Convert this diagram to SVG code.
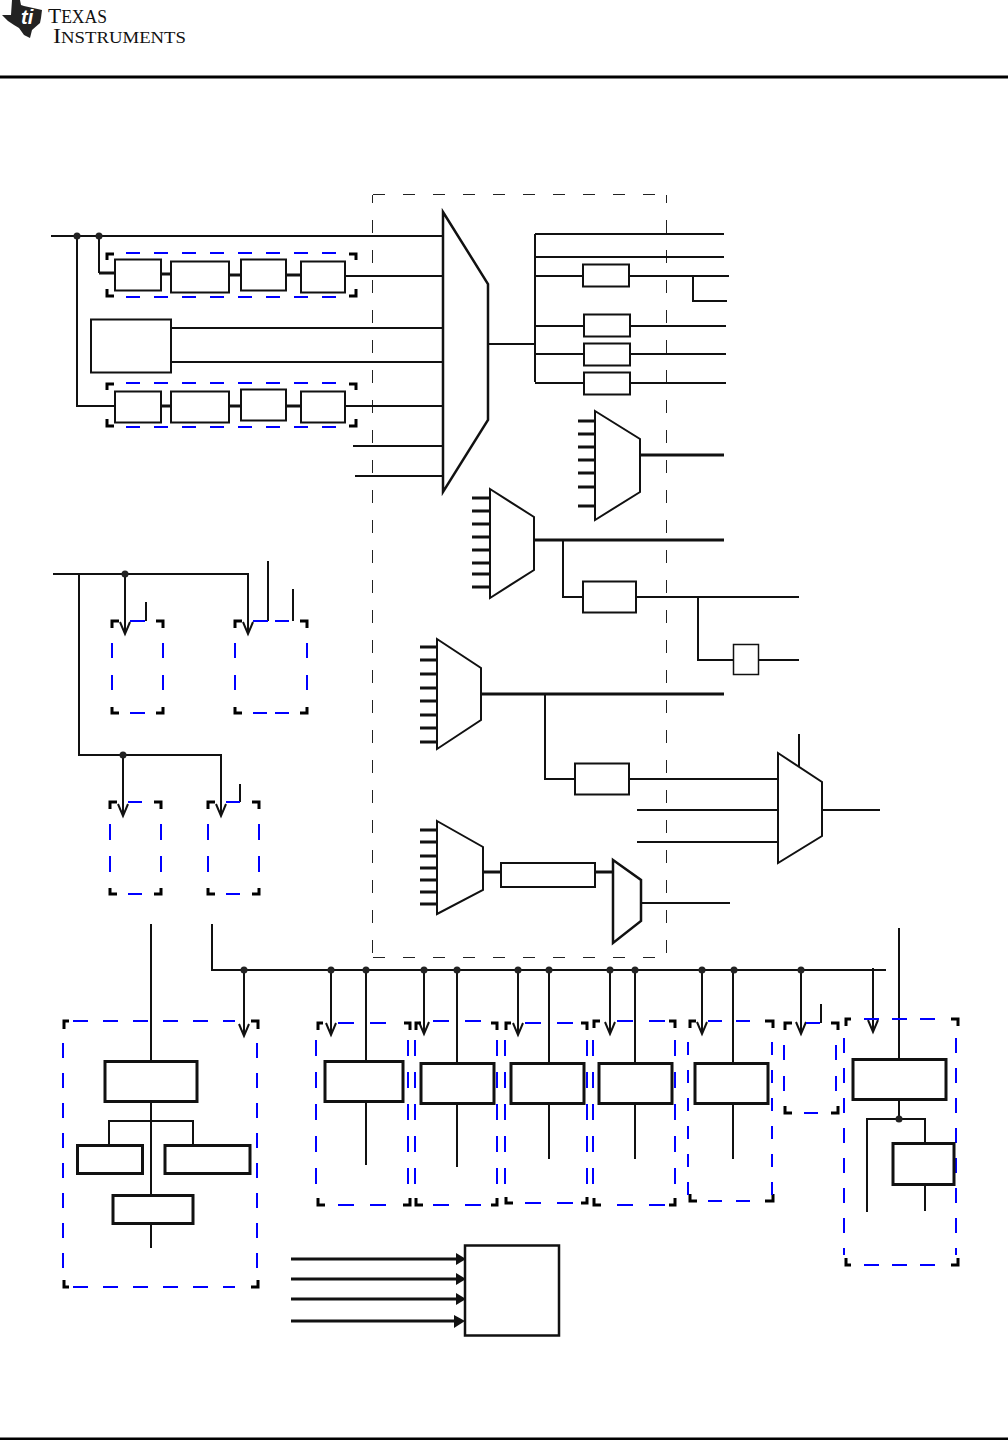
<svg xmlns="http://www.w3.org/2000/svg" width="1008" height="1440" viewBox="0 0 1008 1440">
<style>
rect,polygon{fill:#fff;stroke:#111;stroke-width:2}
path,line{fill:none;stroke:#111;stroke-width:2}
.t{stroke-width:3}
.x{stroke-width:3;stroke:#000}
.k{stroke:#000;stroke-width:3}
.b{stroke:#00f;stroke-width:2;stroke-dasharray:15 15}
.m{stroke:#00f;stroke-width:2;stroke-dasharray:16 16}
.o{stroke:#222;stroke-width:1;stroke-dasharray:13 17;stroke-dashoffset:5}
.tk rect{stroke-width:3}
.ds{fill:#222;stroke:none}
text{font-family:"Liberation Serif",serif;fill:#111}
</style>
<g id="header">
<polygon points="12,0 20,0 21,5 24,6 33,8 42,10 41,18 40,23 32,30 30,38 24,35 19,28 14,25 8,21 2,15 11,15" style="fill:#222;stroke:none"/>
<text x="21" y="24" font-size="20" font-style="italic" font-weight="bold" style="fill:#fff;font-family:'Liberation Sans',sans-serif">ti</text>
<text x="48" y="23" textLength="59" lengthAdjust="spacingAndGlyphs" font-size="18"><tspan font-size="22">T</tspan>EXAS</text>
<text x="53" y="43" textLength="133" lengthAdjust="spacingAndGlyphs" font-size="17"><tspan font-size="22">I</tspan>NSTRUMENTS</text>
<line x1="0" y1="77" x2="1008" y2="77" class="x"/>
<line x1="0" y1="1439" x2="1008" y2="1439" class="x"/>
</g>
<g id="domain-outline"><path class="o" d="M372.500 195V957M666.500 195V957"/><path class="o" d="M373 194.500H666M373 957.500H666" style="stroke-dasharray:12 18;stroke-dashoffset:0"/></g>

<g id="connectors">
<path d="M51 236H443"/><path d="M77 236V406H115"/><path d="M99 236V273"/><path d="M99 273H115" class="t"/>
<path d="M161 274H171M229 275H241M286 275H301" class="t"/><path d="M345 276H443"/>
<path d="M171 328H443M171 362H443"/>
<path d="M161 406H171M229 406H241M286 406H301" class="t"/><path d="M345 406H443M353 446H443M355 476H443"/>
<path d="M488 344H535M535 234V382M535 234H724M535 257H724M535 276H583M629 276H729M693 276V301H727M535 326H584M630 326H726M535 354H584M630 354H726M535 383H584M630 383H726"/>
<path d="M640 455H724" class="t"/>
<path d="M534 540H724" class="t"/><path d="M563 540V597H583M636 597H799M698 597V660H733M758 660H799"/>
<path d="M481 694H724" class="t"/><path d="M545 694V779H575M629 779H778M637 810H778M637 842H778M799 734V768M822 810H880"/>
<path d="M483 872H501M595 872H613" class="t"/><path d="M641 903H730"/>
<path d="M53 574H248V634M125 574V634M79 574V755H221V816M123 755V816"/>
<path d="M146 602V621M268 561V621M293 589V621M240 784V802"/>
<path d="M212 924V970H886M151 924V1195M151 1224V1248M109 1145V1121H193V1145"/>
<path d="M244 970V1036M331 970V1035M366 970V1061M366 1102V1165M424 970V1034M457 970V1063M457 1104V1167M518 970V1035M549 970V1063M549 1104V1159M610 970V1034M635 970V1063M635 1104V1159M702 970V1034M733 970V1063M733 1104V1159M801 970V1034M821 1004V1023M873 968V1032M899 928V1059M899 1100V1119M867 1212V1119H925V1143M925 1185V1211"/>
<path d="M291 1259H456M291 1279H456M291 1299H456M291 1321H456" class="t"/>
<g id="junctions">
<circle class="ds" cx="77" cy="236" r="3.500"/><circle class="ds" cx="99" cy="236" r="3.500"/><circle class="ds" cx="125" cy="574" r="3.500"/><circle class="ds" cx="123" cy="755" r="3.500"/><circle class="ds" cx="244" cy="970" r="3.500"/><circle class="ds" cx="331" cy="970" r="3.500"/><circle class="ds" cx="366" cy="970" r="3.500"/><circle class="ds" cx="424" cy="970" r="3.500"/><circle class="ds" cx="457" cy="970" r="3.500"/><circle class="ds" cx="518" cy="970" r="3.500"/><circle class="ds" cx="549" cy="970" r="3.500"/><circle class="ds" cx="610" cy="970" r="3.500"/><circle class="ds" cx="635" cy="970" r="3.500"/><circle class="ds" cx="702" cy="970" r="3.500"/><circle class="ds" cx="734" cy="970" r="3.500"/><circle class="ds" cx="801" cy="970" r="3.500"/><circle class="ds" cx="899" cy="1119" r="3.500"/>
</g>
<g id="arrowheads">
<path d="M120 622L125 634L130 622M243 622L248 634L253 622M118 804L123 816L128 804M216 804L221 816L226 804M239 1024L244 1036L249 1024M326 1023L331 1035L336 1023M419 1022L424 1034L429 1022M513 1023L518 1035L523 1023M605 1022L610 1034L615 1022M697 1022L702 1034L707 1022M796 1022L801 1034L806 1022M868 1020L873 1032L878 1020"/>
<polygon style="fill:#111;stroke:none" points="456,1253 466,1259 456,1265"/><polygon style="fill:#111;stroke:none" points="456,1273 466,1279 456,1285"/><polygon style="fill:#111;stroke:none" points="456,1293 466,1299 456,1305"/><polygon style="fill:#111;stroke:none" points="454,1315 465,1321 454,1328"/>
</g>
</g>

<g id="chain-top">
<path class="k" d="M107 260V254H114M349 254H356V260M107 289V296H114M349 296H356V289"/>
<line class="b" x1="126" y1="253" x2="336" y2="253" style="stroke-dasharray:14 14"/><line class="b" x1="126" y1="297" x2="336" y2="297" style="stroke-dasharray:14 14"/>
<rect x="115" y="259.500" width="46" height="31"/><rect x="171" y="261.500" width="58" height="31"/><rect x="241" y="259.500" width="45" height="31"/><rect x="301" y="261.500" width="44" height="31"/>
</g>
<g id="source-box"><rect x="91" y="319.500" width="80" height="53"/></g>
<g id="chain-bottom">
<path class="k" d="M107 390V384H114M349 384H356V390M107 419V426H114M349 426H356V419"/>
<line class="b" x1="126" y1="383" x2="336" y2="383" style="stroke-dasharray:14 14"/><line class="b" x1="126" y1="427" x2="336" y2="427" style="stroke-dasharray:14 14"/>
<rect x="115" y="391.500" width="46" height="31"/><rect x="171" y="391.500" width="58" height="31"/><rect x="241" y="389.500" width="45" height="31"/><rect x="301" y="391.500" width="44" height="31"/>
</g>

<g id="mux-main"><polygon points="443,212 488,284 488,420 443,492" style="stroke-width:2.500"/></g>
<g id="box-a"><rect x="583" y="264.500" width="46" height="22"/></g>
<g id="box-b"><rect x="584" y="314.500" width="46" height="22"/></g>
<g id="box-c"><rect x="584" y="343.500" width="46" height="22"/></g>
<g id="box-d"><rect x="584" y="372.500" width="46" height="22"/></g>
<g id="mux-2"><path class="t" d="M578 421H595M578 434H595M578 447H595M578 460H595M578 473H595M578 487H595M578 506H595"/><polygon points="595,411 640,439 640,492 595,520"/></g>
<g id="mux-3"><path class="t" d="M472 498H490M472 511H490M472 524H490M472 537H490M472 550H490M472 563H490M472 574H490M472 587H490"/><polygon points="490,489 534,517 534,570 490,598"/></g>
<g id="box-e"><rect x="583" y="581.500" width="53" height="31"/></g>
<g id="box-f"><rect x="733.500" y="644.500" width="25" height="30" style="stroke-width:1.500"/></g>
<g id="mux-4"><path class="t" d="M420 647H437M420 660H437M420 674H437M420 688H437M420 701H437M420 715H437M420 728H437M420 742H437"/><polygon points="437,639 481,668 481,720 437,749"/></g>
<g id="box-g"><rect x="575" y="763.500" width="54" height="31"/></g>
<g id="mux-5"><polygon points="778,753 822,782 822,836 778,863"/></g>
<g id="mux-6"><path class="t" d="M420 830H437M420 842H437M420 856H437M420 868H437M420 880H437M420 892H437M420 904H437"/><polygon points="437,821 483,847 483,890 437,914"/></g>
<g id="box-h"><rect x="501" y="863" width="94" height="24"/></g>
<g id="mux-7"><polygon points="613,860 641,880 641,921 613,943" style="stroke-width:2.500"/></g>

<g id="clock-1"><path class="k" d="M112 628V621H119M156 621H163V628M112 707V713H119M156 713H163V707"/><path class="b" d="M130 621H145M130 713H145M112 643V658M112 675V690M163 643V658M163 675V690" style="stroke-dasharray:none"/></g>
<g id="clock-2"><path class="k" d="M235 628V621H242M300 621H307V628M235 707V713H242M300 713H307V707"/><path class="b" d="M253 621H268M275 621H289M253 713H267M275 713H289M235 643V658M235 675V690M307 643V658M307 675V690" style="stroke-dasharray:none"/></g>
<g id="clock-3"><path class="k" d="M110 809V802H117M154 802H161V809M110 888V894H117M154 894H161V888"/><path class="b" d="M128 802H142M128 894H142M110 824V840M110 856V872M161 824V840M161 856V872" style="stroke-dasharray:none"/></g>
<g id="clock-4"><path class="k" d="M208 809V802H215M252 802H259V809M208 888V894H215M252 894H259V888"/><path class="b" d="M226 802H240M226 894H240M208 824V840M208 856V872M259 824V840M259 856V872" style="stroke-dasharray:none"/></g>

<g id="module-1" class="tk"><path class="k" d="M64 1029V1021H69M251 1021H258V1029M64 1280V1287H69M251 1287H258V1280"/>
<line class="b" x1="73" y1="1021" x2="235" y2="1021"/><line class="b" x1="73" y1="1287" x2="235" y2="1287"/><line class="b" x1="63" y1="1043" x2="63" y2="1280"/><line class="b" x1="257" y1="1043" x2="257" y2="1280"/>
<rect x="105" y="1061.500" width="92" height="40"/><rect x="77.500" y="1145.500" width="65" height="28"/><rect x="165" y="1145.500" width="85" height="28"/><rect x="113" y="1195.500" width="80" height="28"/></g>
<g id="module-2" class="tk"><path class="k" d="M318 1030V1023H323M404 1023H410V1030M318 1198V1205H325M403 1205H410V1198"/>
<line class="m" x1="338" y1="1023" x2="400" y2="1023"/><line class="m" x1="338" y1="1205" x2="400" y2="1205"/><line class="m" x1="316" y1="1040" x2="316" y2="1195"/><line class="m" x1="408" y1="1040" x2="408" y2="1195"/>
<rect x="325" y="1061.500" width="78" height="40"/></g>
<g id="module-3" class="tk"><path class="k" d="M416 1030V1023H421M491 1023H497V1030M416 1198V1205H423M491 1205H497V1198"/>
<line class="m" x1="433" y1="1021" x2="490" y2="1021"/><line class="m" x1="433" y1="1205" x2="490" y2="1205"/><line class="m" x1="415" y1="1040" x2="415" y2="1195"/><line class="m" x1="497" y1="1040" x2="497" y2="1195"/>
<rect x="421" y="1063.500" width="73" height="40"/></g>
<g id="module-4" class="tk"><path class="k" d="M506 1030V1023H511M581 1023H587V1030M506 1197V1203H513M581 1203H587V1197"/>
<line class="m" x1="525" y1="1023" x2="580" y2="1023"/><line class="m" x1="525" y1="1203" x2="580" y2="1203"/><line class="m" x1="505" y1="1040" x2="505" y2="1195"/><line class="m" x1="587" y1="1040" x2="587" y2="1195"/>
<rect x="511" y="1063.500" width="73" height="40"/></g>
<g id="module-5" class="tk"><path class="k" d="M594 1028V1021H600M669 1021H675V1028M594 1198V1205H601M669 1205H675V1198"/>
<line class="m" x1="617" y1="1021" x2="668" y2="1021"/><line class="m" x1="617" y1="1205" x2="668" y2="1205"/><line class="m" x1="593" y1="1040" x2="593" y2="1195"/><line class="m" x1="675" y1="1040" x2="675" y2="1195"/>
<rect x="599" y="1063.500" width="73" height="40"/></g>
<g id="module-6" class="tk"><path class="k" d="M690 1028V1021H696M765 1021H773V1028M690 1194V1201H697M765 1201H773V1194"/>
<line class="b" x1="708" y1="1021" x2="750" y2="1021" style="stroke-dasharray:14 14"/><line class="b" x1="708" y1="1201" x2="750" y2="1201" style="stroke-dasharray:14 14"/><line class="b" x1="688" y1="1042" x2="688" y2="1195" style="stroke-dasharray:13 15"/><line class="b" x1="772" y1="1042" x2="772" y2="1195" style="stroke-dasharray:13 15"/>
<rect x="695" y="1063.500" width="73" height="40"/></g>
<g id="module-7"><path class="k" d="M785 1030V1023H792M831 1023H838V1030M785 1106V1113H792M831 1113H838V1106"/><path class="b" d="M806 1023H820M804 1113H818M784 1045V1060M784 1076V1091M836 1045V1060M836 1076V1091" style="stroke-dasharray:none"/></g>
<g id="module-8" class="tk"><path class="k" d="M846 1026V1019H851M951 1019H958V1026M846 1258V1265H851M951 1265H958V1258"/>
<line class="b" x1="864" y1="1019" x2="936" y2="1019" style="stroke-dasharray:15 13"/><line class="b" x1="864" y1="1265" x2="936" y2="1265" style="stroke-dasharray:15 13"/><line class="b" x1="844" y1="1038" x2="844" y2="1255"/><line class="b" x1="956" y1="1038" x2="956" y2="1255"/>
<rect x="853" y="1059.500" width="93" height="40"/><rect x="893" y="1143.500" width="61" height="41"/></g>
<g id="target-box"><rect x="465" y="1245.500" width="94" height="90" style="stroke-width:2.500"/></g>
</svg>
